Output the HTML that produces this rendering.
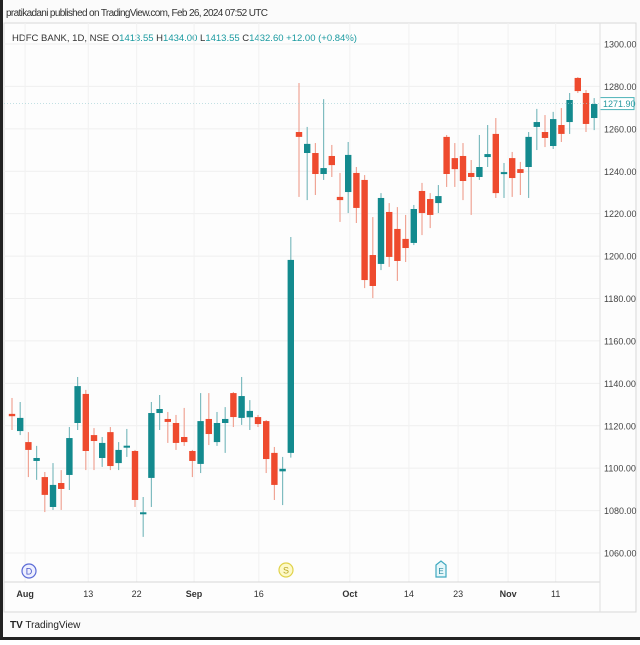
<!DOCTYPE html>
<html><head><meta charset="utf-8"><style>
html,body{margin:0;padding:0;background:#fff;}
body{width:640px;height:640px;overflow:hidden;position:relative;font-family:"Liberation Sans",sans-serif;}
svg text{font-family:"Liberation Sans",sans-serif;}
</style></head><body>
<svg id="chart" width="640" height="640" viewBox="0 0 640 640" xmlns="http://www.w3.org/2000/svg">
<rect x="0" y="0" width="640" height="640" fill="#fbfbfb"/>
<rect x="4" y="23" width="632" height="589" fill="#fdfdfd" stroke="#d8d8d8" stroke-width="1"/>
<rect x="0" y="0" width="3" height="640" fill="#222"/>
<rect x="0" y="637" width="640" height="3" fill="#222"/>
<text x="6" y="16" font-size="10" fill="#333" textLength="262">pratikadani published on TradingView.com, Feb 26, 2024 07:52 UTC</text>
<g id="legend">
<text x="12" y="41" font-size="9.5" fill="#333">HDFC BANK, 1D, NSE <tspan fill="#333">O</tspan><tspan fill="#1a9aa0">1413.55</tspan> <tspan fill="#333">H</tspan><tspan fill="#1a9aa0">1434.00</tspan> <tspan fill="#333">L</tspan><tspan fill="#1a9aa0">1413.55</tspan> <tspan fill="#333">C</tspan><tspan fill="#1a9aa0">1432.60</tspan> <tspan fill="#1a9aa0">+12.00 (+0.84%)</tspan></text>
</g>
<g id="grid"></g>
<g id="candles"></g>
<g id="yaxis"></g>
<g id="xaxis"></g>
<line x1="4" y1="582" x2="600" y2="582" stroke="#d6d6d6"/>
<line x1="600" y1="23" x2="600" y2="612" stroke="#e0e0e0"/>
<g><circle cx="29" cy="571" r="7" fill="#eef0ff" stroke="#5b6bd6" stroke-width="1.2"/><text x="29" y="574.5" font-size="9" fill="#4a58c8" text-anchor="middle">D</text></g>
<g><circle cx="286" cy="570" r="7" fill="#fdf9c8" stroke="#e0d24a" stroke-width="1.2"/><text x="286" y="573.5" font-size="9" fill="#b8a420" text-anchor="middle">S</text></g>
<g><path d="M436 565 L441 561 L446 565 L446 577 L436 577 Z" fill="#e6f7fa" stroke="#3fa9c0" stroke-width="1.2"/><text x="441" y="574" font-size="8" fill="#2a8aa0" text-anchor="middle">E</text></g>
<text x="10" y="628" font-size="10" fill="#222"><tspan font-weight="bold">TV</tspan> TradingView</text>
</svg>
<script>
var opens=[1125.6,1117.5,1112.3,1103.4,1095.8,1081.7,1093.0,1096.8,1121.3,1135.0,1115.6,1104.8,1117.0,1102.4,1110.0,1108.1,1078.5,1095.4,1126.0,1123.2,1121.3,1114.7,1108.1,1102.0,1123.2,1112.3,1121.3,1135.4,1123.7,1124.0,1124.1,1122.2,1107.2,1098.5,1107.2,1258.5,1248.6,1248.6,1238.7,1247.2,1227.9,1230.2,1239.2,1235.9,1200.5,1196.3,1220.8,1212.8,1208.1,1206.2,1230.7,1226.9,1225.0,1256.2,1246.2,1247.2,1239.2,1237.3,1246.7,1257.6,1238.8,1246.2,1241.0,1242.0,1260.9,1258.5,1251.9,1261.8,1263.2,1284.0,1276.9,1265.1];
var highs=[1133.1,1131.2,1117.0,1110.5,1098.2,1102.4,1099.1,1119.4,1143.0,1136.9,1118.9,1114.7,1119.4,1112.3,1118.5,1108.6,1086.4,1131.2,1134.5,1126.5,1125.1,1128.4,1108.6,1135.4,1135.4,1126.5,1128.8,1135.9,1143.0,1132.1,1125.1,1122.7,1110.0,1105.3,1209.0,1281.6,1260.9,1253.3,1274.0,1252.4,1239.2,1253.8,1242.0,1238.2,1218.4,1229.7,1225.0,1223.1,1219.4,1224.1,1234.5,1229.7,1233.5,1257.1,1253.3,1253.3,1245.3,1257.1,1261.8,1265.1,1243.9,1249.1,1244.4,1258.5,1269.4,1266.5,1268.0,1269.8,1276.9,1284.4,1278.3,1274.5];
var lows=[1118.0,1115.6,1095.8,1094.5,1079.3,1080.3,1080.3,1089.7,1118.0,1099.1,1099.1,1100.6,1099.1,1099.1,1105.3,1081.7,1067.6,1081.7,1118.0,1111.9,1108.6,1110.5,1095.8,1097.7,1110.9,1110.5,1107.2,1119.4,1120.4,1118.0,1119.4,1097.7,1085.0,1082.6,1105.0,1227.9,1226.4,1228.8,1235.9,1237.3,1216.1,1220.3,1215.6,1184.9,1180.2,1193.4,1194.9,1188.3,1197.2,1205.2,1209.9,1213.2,1220.3,1232.6,1232.6,1226.4,1219.4,1235.9,1242.0,1227.4,1227.4,1227.9,1228.8,1227.4,1250.0,1251.4,1250.5,1253.8,1257.6,1276.9,1258.5,1259.4];
var closes=[1124.5,1123.7,1108.6,1104.8,1087.4,1092.1,1090.2,1114.2,1138.7,1108.1,1112.8,1111.9,1101.0,1108.6,1110.6,1085.0,1079.2,1126.0,1127.9,1121.8,1111.9,1112.3,1103.4,1122.2,1116.1,1121.3,1123.2,1124.1,1134.0,1127.0,1120.8,1104.3,1092.1,1099.7,1198.2,1256.2,1252.9,1238.7,1241.5,1242.9,1226.4,1247.7,1222.7,1188.7,1185.9,1227.4,1199.6,1197.7,1203.8,1222.2,1220.3,1219.4,1228.3,1238.7,1241.0,1235.4,1237.3,1242.0,1248.1,1229.7,1239.6,1236.8,1239.2,1256.2,1263.2,1255.7,1264.6,1257.6,1273.6,1277.8,1262.3,1271.7];
var yTicks=[1300,1280,1260,1240,1220,1200,1180,1160,1140,1120,1100,1080,1060];
var xLabels=["Aug","13","22","Sep","16","Oct","14","23","Nov","11"];
var xLabelIdx=[1.6,9.3,15.2,22.2,30.1,41.2,48.4,54.4,60.5,66.3];
var lastPrice=1271.90;

(function(){
var NS="http://www.w3.org/2000/svg";
function yScale(p){return 44+(1300-p)*(509/240);}
function xScale(i){return 12+i*8.2;}
function mk(tag,attrs,parent){var e=document.createElementNS(NS,tag);for(var k in attrs)e.setAttribute(k,attrs[k]);parent.appendChild(e);return e;}
var grid=document.getElementById('grid'),cg=document.getElementById('candles'),ya=document.getElementById('yaxis'),xa=document.getElementById('xaxis');
yTicks.forEach(function(t){
  var y=yScale(t);
  var gl=mk('line',{x1:4,x2:600,y1:y,y2:y,stroke:'#efefef','stroke-width':1},grid);
  
  
  var tx=mk('text',{x:604,y:y+3.5,'font-size':9,fill:'#444'},ya);
  tx.textContent=t.toFixed(2);
  
  
});
xLabels.forEach(function(l,i){
  var x=xScale(xLabelIdx[i]);
  var gl=mk('line',{x1:x,x2:x,y1:23,y2:582,stroke:'#f1f1f1','stroke-width':1},grid);
  
  
  var tx=mk('text',{x:x,y:597,'font-size':9,fill:'#333','text-anchor':'middle','font-weight':(isNaN(+l)?'bold':'normal')},xa);
  tx.textContent=l;
  
  
});
for(var i=0;i<opens.length;i++){
  var up=closes[i]>=opens[i];
  var col=up?'#138a8e':'#ee4a2e';
  var wcol=up?'#7fbcc0':'#f0a596';
  var x=xScale(i);
  var g=mk('g',{},cg);
  
  
  mk('line',{x1:x,x2:x,y1:yScale(highs[i]),y2:yScale(lows[i]),stroke:wcol,'stroke-width':1.2},g);
  var bTop=yScale(Math.max(opens[i],closes[i])),bBot=yScale(Math.min(opens[i],closes[i]));
  mk('rect',{x:x-3.2,y:bTop,width:6.4,height:Math.max(2,bBot-bTop),fill:col},g);
}
var ly=yScale(lastPrice);
var pl=mk('line',{x1:4,x2:600,y1:ly,y2:ly,stroke:'#9fd0d3','stroke-width':0.6,'stroke-dasharray':'1 2'},ya);


var lb=mk('rect',{x:600,y:ly-6,width:34,height:12,fill:'#fff',stroke:'#4bb2b8','stroke-width':1},ya);


var lt=mk('text',{x:603,y:ly+3.5,'font-size':9,fill:'#2a9aa0'},ya);
lt.textContent=lastPrice.toFixed(2);


})();
</script>
</body></html>
